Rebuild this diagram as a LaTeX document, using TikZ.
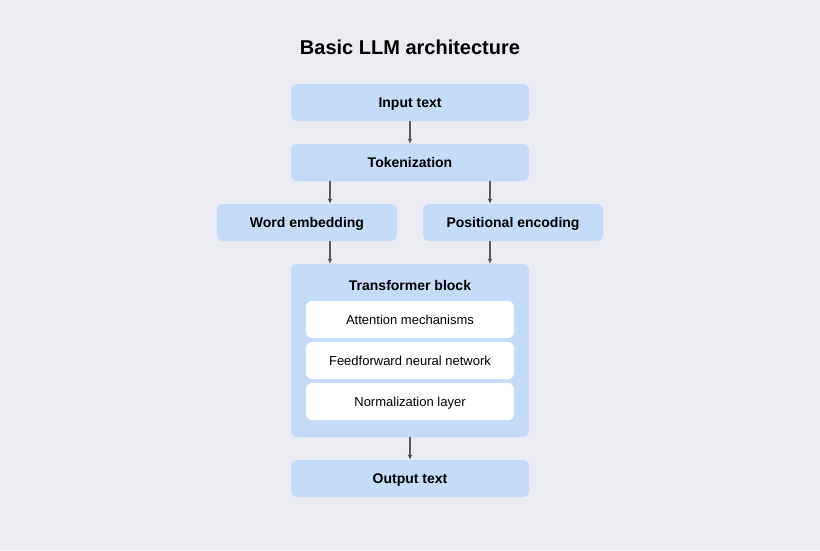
\documentclass[tikz,border=0pt]{standalone}
\usepackage{fontspec}
\setmainfont{Liberation Sans}
\usetikzlibrary{arrows.meta,positioning}
\definecolor{bgcol}{RGB}{235,236,241}
\definecolor{boxcol}{RGB}{197,219,248}
\definecolor{arrcol}{RGB}{90,90,90}
\tikzset{
    stage/.style={fill=boxcol,rounded corners=6pt,minimum width=238pt,minimum height=37pt,text height=10pt,text depth=0pt,font=\fontsize{14}{16}\selectfont\bfseries},
    sidestage/.style={stage,minimum width=180pt},
    layer/.style={fill=white,rounded corners=6pt,minimum width=208pt,minimum height=37pt,text height=9pt,text depth=0pt,font=\fontsize{13}{15}\selectfont},
    flow/.style={draw=arrcol,line width=1.2pt,-{Latex[length=5pt,width=5pt]}}
}
\begin{document}
\begin{tikzpicture}[x=1pt,y=-1pt]
    \useasboundingbox[fill=bgcol] (0,0) rectangle (820,550);
    \node[font=\fontsize{20}{24}\selectfont\bfseries] (title) at (410,47) {Basic LLM architecture};
    \node[stage] (input) at (410,102.5) {Input text};
    \node[stage] (token) at (410,162.5) {Tokenization};
    \node[sidestage] (word) at (307,222.5) {Word embedding};
    \node[sidestage] (pos)  at (513,222.5) {Positional encoding};
    % transformer block with its layers
    \node[stage,minimum height=173pt] (block) at (410,350.5) {};
    \node[font=\fontsize{14}{16}\selectfont\bfseries] (blocktitle) at (410,285) {Transformer block};
    \node[layer] (attn) at (410,319.5) {Attention mechanisms};
    \node[layer] (ffn)  at (410,360.5) {Feedforward neural network};
    \node[layer] (norm) at (410,401.5) {Normalization layer};
    \node[stage] (output) at (410,478.5) {Output text};

    \draw[flow] (input) -- (token);
    \draw[flow] ([xshift=-80pt]token.south) -- ([xshift=-80pt]token.south |- word.north);
    \draw[flow] ([xshift=80pt]token.south) -- ([xshift=80pt]token.south |- pos.north);
    \draw[flow] ([xshift=23pt]word.south) -- ([xshift=23pt]word.south |- block.north);
    \draw[flow] ([xshift=-23pt]pos.south) -- ([xshift=-23pt]pos.south |- block.north);
    \draw[flow] (block) -- (output);
\end{tikzpicture}
\end{document}
